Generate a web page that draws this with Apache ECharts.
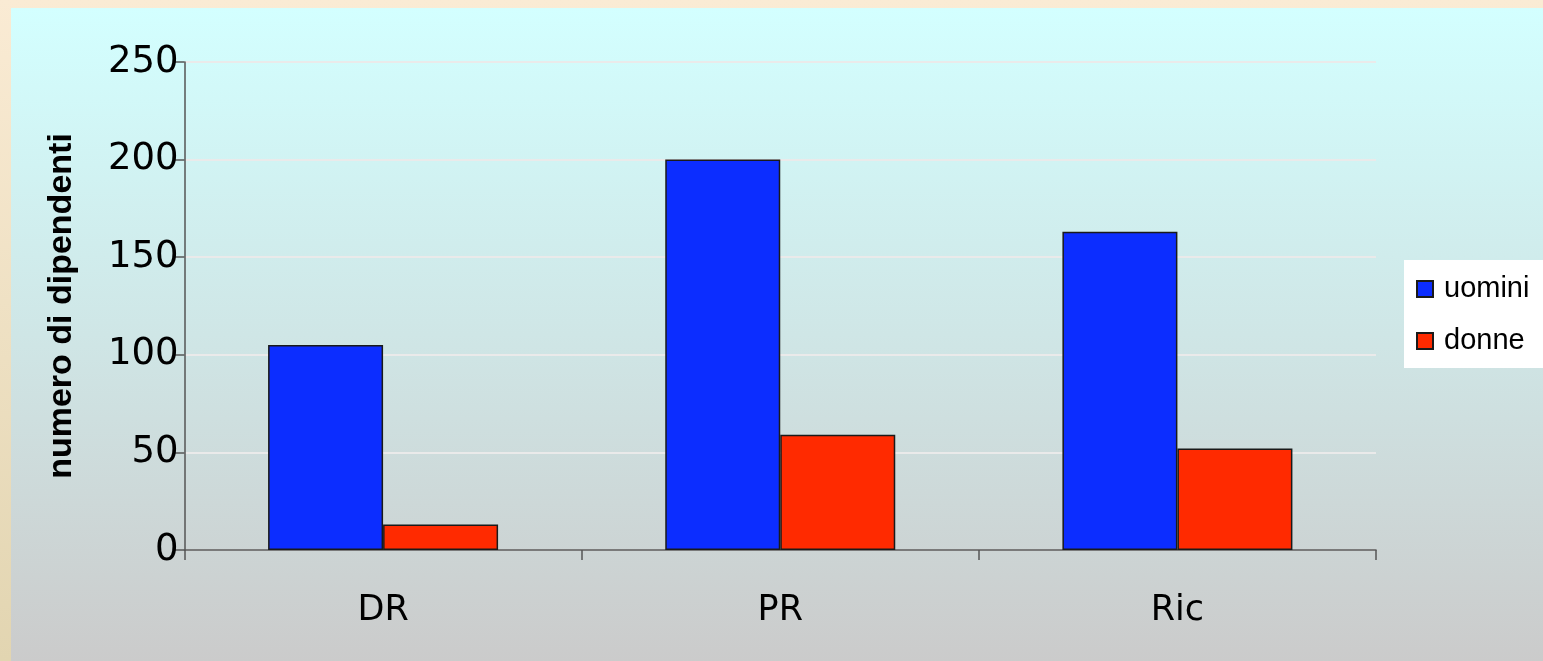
<!DOCTYPE html>
<html>
<head>
<meta charset="utf-8">
<script src="https://cdn.jsdelivr.net/npm/echarts@6/dist/echarts.min.js"></script>
<style>
  html, body { margin: 0; padding: 0; background: #f9ebd3; }
  #chart { width: 1543px; height: 661px; }
</style>
</head>
<body>
<div id="chart"></div>
<script>
// Staff counts by role, split by gender
const categories = ['DR', 'PR', 'Ric'];
const uomini = [105, 200, 163];
const donne = [13, 59, 52];
const yTicks = { min: 0, max: 250, step: 50 };

const chart = echarts.init(document.getElementById('chart'), null, { renderer: 'canvas' });

const W = 1543, H = 661;

chart.setOption({
  animation: false,
  graphic: [
    // beige frame
    {
      type: 'rect', z: -20, silent: true,
      shape: { x: 0, y: 0, width: W, height: H },
      style: {
        fill: new echarts.graphic.LinearGradient(0, 0, 0, 1, [
          { offset: 0, color: '#faebd4' },
          { offset: 1, color: '#e2d5b1' }
        ])
      }
    },
    // inner panel: cyan fading to grey
    {
      type: 'rect', z: -10, silent: true,
      shape: { x: 11, y: 8, width: W - 11, height: H - 8 },
      style: {
        fill: new echarts.graphic.LinearGradient(0, 0, 0, 1, [
          { offset: 0, color: '#d3ffff' },
          { offset: 0.5, color: '#cfe6e6' },
          { offset: 1, color: '#cbcbcb' }
        ])
      }
    }
  ],
  grid: { left: 184.5, right: 167, top: 62, bottom: 111, containLabel: false },
  legend: {
    orient: 'vertical',
    left: 1404, top: 260,
    padding: [14, 30, 12, 12],
    backgroundColor: '#ffffff',
    itemWidth: 16, itemHeight: 16,
    itemGap: 22,
    icon: 'rect',
    textStyle: {
      fontFamily: 'Liberation Sans', fontSize: 29, lineHeight: 30, color: '#000',
      padding: [0, 0, 0, 6]
    },
    data: ['uomini', 'donne']
  },
  xAxis: {
    type: 'category',
    data: categories,
    axisLine: { lineStyle: { color: '#555', width: 1.5 } },
    axisTick: { show: true, length: 10, lineStyle: { color: '#555', width: 1.5 } },
    axisLabel: { margin: 43, fontFamily: 'DejaVu Sans', fontSize: 35, color: '#000' },
    splitLine: { show: false }
  },
  yAxis: {
    type: 'value',
    min: yTicks.min, max: yTicks.max, interval: yTicks.step,
    name: 'numero di dipendenti',
    nameLocation: 'middle',
    nameRotate: 90,
    nameGap: 106,
    nameTextStyle: { fontFamily: 'Liberation Sans', fontWeight: 'bold', fontSize: 34, color: '#000' },
    axisLine: { show: true, lineStyle: { color: '#555', width: 1.5 } },
    axisTick: { show: true, length: 10, lineStyle: { color: '#555', width: 1.5 } },
    axisLabel: {
      margin: 6, fontFamily: 'DejaVu Sans', fontSize: 37, color: '#000',
      padding: [8, 0, 0, 0]
    },
    splitLine: { show: true, lineStyle: { color: '#eaeaea', width: 2 } }
  },
  series: [
    {
      name: 'uomini', type: 'bar', data: uomini,
      barWidth: 115, barGap: '0%',
      itemStyle: { color: '#0c2dff', borderColor: '#1a1a1a', borderWidth: 1.5 }
    },
    {
      name: 'donne', type: 'bar', data: donne,
      barWidth: 115, barGap: '0%',
      itemStyle: { color: '#ff2a00', borderColor: '#1a1a1a', borderWidth: 1.5 }
    }
  ]
});
</script>
</body>
</html>
